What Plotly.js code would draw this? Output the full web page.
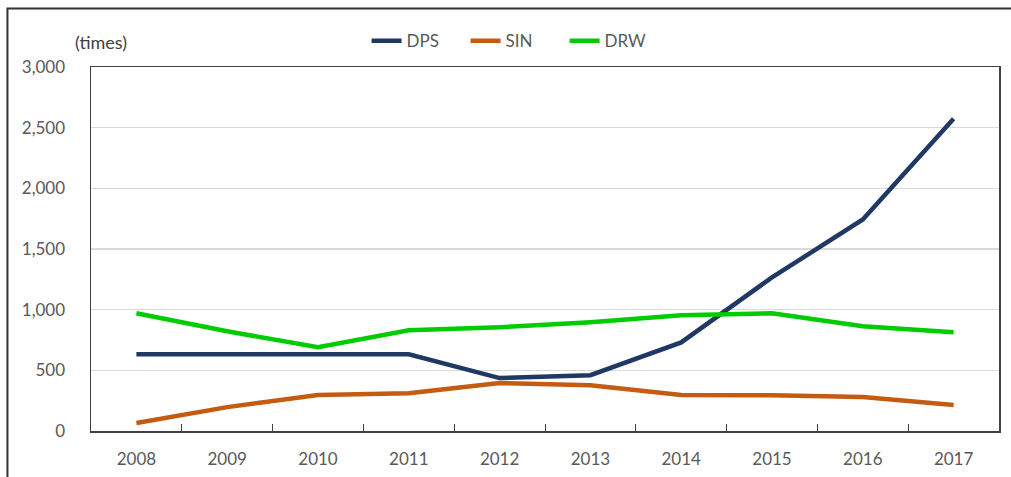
<!DOCTYPE html>
<html>
<head>
<meta charset="utf-8">
<script src="https://cdn.plot.ly/plotly-3.0.1.min.js"></script>
<style>html,body{margin:0;padding:0;background:#fff;}#chart{width:1011px;height:477px;}</style>
</head>
<body>
<div id="chart"></div>
<script>
const years = ['2008','2009','2010','2011','2012','2013','2014','2015','2016','2017'];
const dps = [633, 633, 633, 633, 436, 460, 730, 1266, 1743, 2573];
const sin = [66, 197, 296, 312, 395, 378, 296, 295, 280, 214];
const drw = [970, 822, 690, 830, 855, 896, 953, 970, 863, 814];
const yTicks = [0, 500, 1000, 1500, 2000, 2500, 3000];
const yTickText = ['0', '500', '1,000', '1,500', '2,000', '2,500', '3,000'];

const font = 'Lato, "Open Sans", sans-serif';
function tr(name, y, color) {
  return {x: years, y: y, name: name, type: 'scatter', mode: 'lines',
    line: {color: color, width: 4.5}, hoverinfo: 'x+y'};
}
const data = [tr('DPS', dps, '#1F3864'), tr('SIN', sin, '#C55A11'), tr('DRW', drw, '#00CC00')];
const layout = {
  width: 1011, height: 477,
  margin: {l: 91, r: 12, t: 67, b: 46},
  paper_bgcolor: '#fff', plot_bgcolor: '#fff',
  font: {family: font, size: 17, color: '#595959'},
  showlegend: true,
  legend: {orientation: 'h', x: 0.3035, xanchor: 'left', xref: 'paper', y: 1.071, yref: 'paper', yanchor: 'middle',
    bgcolor: 'rgba(0,0,0,0)', font: {size: 17, color: '#595959'}, entrywidth: 54, entrywidthmode: 'pixels',
    itemwidth: 30, tracegroupgap: 0},
  xaxis: {type: 'category', range: [-0.5, 9.5], showgrid: false, showline: true, mirror: true,
    linecolor: '#404040', linewidth: 1.5, ticks: 'inside', tickson: 'boundaries', ticklen: 7,
    tickcolor: '#404040', tickwidth: 1, ticklabelstandoff: 12, fixedrange: true, zeroline: false},
  yaxis: {range: [0, 3000], tickvals: yTicks, ticktext: yTickText, showgrid: true, gridcolor: '#D9D9D9',
    gridwidth: 1.5, showline: true, mirror: true, linecolor: '#404040', linewidth: 1.5, ticks: '',
    ticklabelstandoff: 21, zeroline: false, fixedrange: true},
  annotations: [{text: '(times)', xref: 'paper', yref: 'paper', x: -0.02, y: 1.068, xanchor: 'left', yanchor: 'middle',
    showarrow: false, font: {size: 18, color: '#404040'}}],
  shapes: [{type: 'rect', xref: 'paper', yref: 'paper', x0: -0.092, x1: 1.2, y0: -0.5, y1: 1.161,
    line: {color: '#333', width: 2}, fillcolor: 'rgba(0,0,0,0)', layer: 'below'}]
};
Plotly.newPlot('chart', data, layout, {displayModeBar: false, staticPlot: true});
</script>
</body>
</html>
